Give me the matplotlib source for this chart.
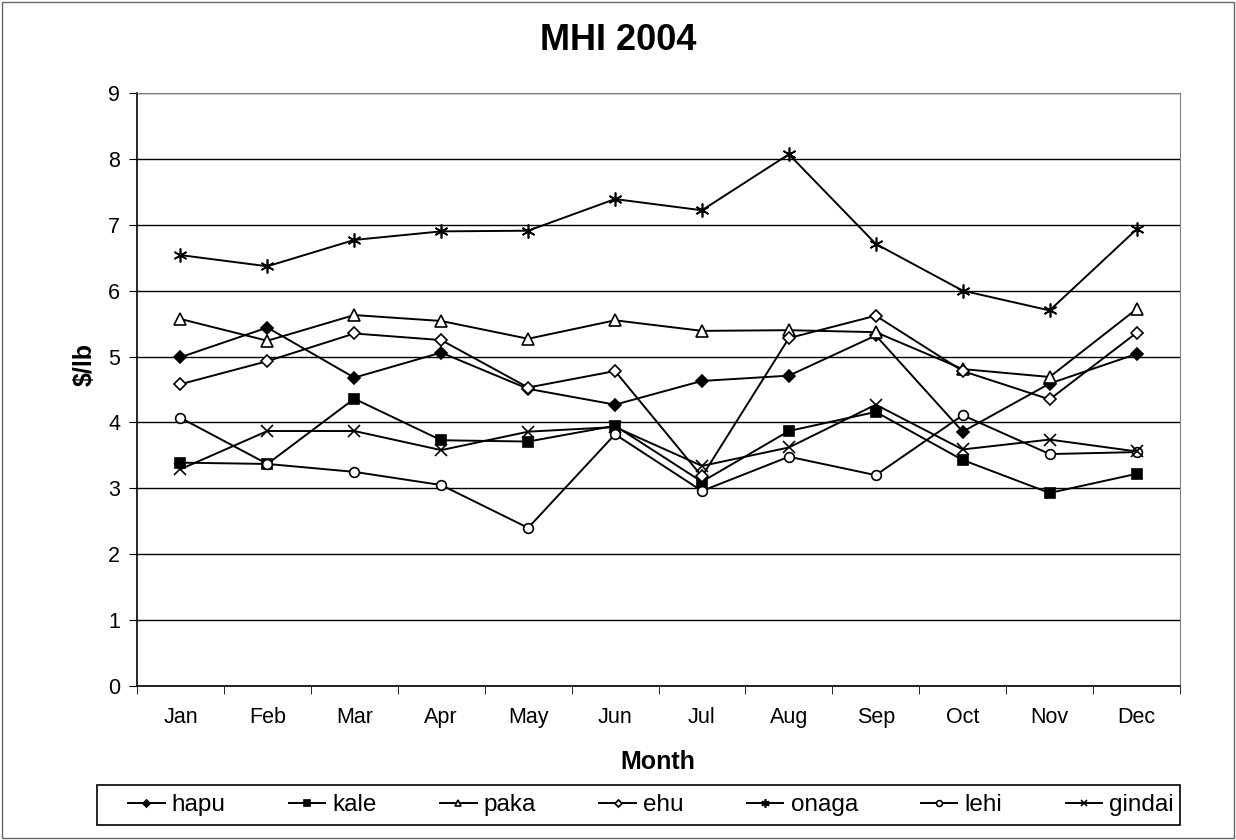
import matplotlib.pyplot as plt
import numpy as np

plt.rcParams['font.family'] = ['Liberation Sans', 'DejaVu Sans']

months = ['Jan', 'Feb', 'Mar', 'Apr', 'May', 'Jun', 'Jul', 'Aug', 'Sep', 'Oct', 'Nov', 'Dec']

hapu = [4.99, 5.44, 4.68, 5.06, 4.51, 4.27, 4.63, 4.71, 5.32, 3.86, 4.59, 5.04]
kale = [3.39, 3.37, 4.36, 3.73, 3.71, 3.95, 3.10, 3.87, 4.16, 3.43, 2.93, 3.22]
paka = [5.57, 5.24, 5.63, 5.54, 5.27, 5.55, 5.39, 5.40, 5.37, 4.81, 4.69, 5.72]
ehu = [4.58, 4.93, 5.35, 5.25, 4.53, 4.78, 3.18, 5.28, 5.62, 4.78, 4.35, 5.36]
onaga = [6.54, 6.37, 6.77, 6.90, 6.91, 7.39, 7.22, 8.07, 6.71, 6.00, 5.70, 6.93]
lehi = [4.07, 3.37, 3.25, 3.05, 2.40, 3.82, 2.96, 3.48, 3.20, 4.11, 3.52, 3.55]
gindai = [3.29, 3.87, 3.87, 3.58, 3.86, 3.93, 3.34, 3.62, 4.27, 3.59, 3.74, 3.56]

series = [
    ('hapu', hapu, 'D', 'black', 6),
    ('kale', kale, 's', 'black', 7),
    ('paka', paka, '^', 'white', 8),
    ('ehu', ehu, 'D', 'white', 6),
    ('onaga', onaga, (6, 2, 0), 'black', 10),
    ('lehi', lehi, 'o', 'white', 7),
    ('gindai', gindai, 'x', 'black', 8),
]

W, H = 1236, 840
fig = plt.figure(figsize=(W / 100, H / 100), dpi=100)
ax = fig.add_axes([137 / W, 1 - 686 / H, (1180 - 137) / W, (686 - 93) / H])

x = np.arange(len(months))
for name, vals, mk, fc, ms in series:
    ax.plot(x, vals, color='black', linewidth=1.4, marker=mk, markersize=ms,
            markerfacecolor=fc, markeredgecolor='black', markeredgewidth=1.2,
            label=name)

ax.set_xlim(-0.5, len(months) - 0.5)
ax.set_ylim(0, 9)
ax.set_yticks(range(0, 10))
ax.set_xticks(x)
ax.set_xticklabels(months, fontsize=15.5)
ax.set_xticks(np.arange(-0.5, len(months), 1), minor=True)
ax.tick_params(axis='x', which='major', length=0, pad=15)
ax.tick_params(axis='x', which='minor', length=6, direction='out', color='black')
ax.tick_params(axis='y', labelsize=15.5, length=6, direction='out', pad=6)
ax.yaxis.grid(True, color='black', linewidth=1.0)
ax.set_axisbelow(True)
for side in ['top', 'right']:
    ax.spines[side].set_color('#808080')
for side in ['left', 'bottom']:
    ax.spines[side].set_linewidth(1.2)

# axis titles placed where the original chart has them
fig.text(658 / W, 1 - 762 / H, 'Month', ha='center', va='center', fontsize=18, fontweight='bold')
fig.text(85 / W, 1 - 364 / H, '$/lb', ha='center', va='center', rotation=90,
         fontsize=18, fontweight='bold')
fig.text(0.5, 1 - 40 / H, 'MHI 2004', ha='center', va='center', fontsize=26, fontweight='bold')

# legend entries spread across the box, box drawn separately (Excel-like padding)
leg = fig.legend(loc='center', bbox_to_anchor=(122 / W, 1 - 825 / H, (1180 - 122) / W, 40 / H),
                 mode='expand', ncol=7, fontsize=17.5, frameon=False,
                 handlelength=1.5, handletextpad=0.3,
                 markerscale=0.6, borderpad=0.25, borderaxespad=0)
fig.patches.append(plt.Rectangle((97 / W, 1 - 825 / H), (1180 - 97) / W, 40 / H,
                                 transform=fig.transFigure, fill=False,
                                 edgecolor='black', linewidth=1.2))

fig.patches.append(plt.Rectangle((0.002, 0.002), 0.996, 0.996, transform=fig.transFigure,
                                 fill=False, edgecolor='#666666', linewidth=1.0))

fig.savefig('out.png', dpi=100)
